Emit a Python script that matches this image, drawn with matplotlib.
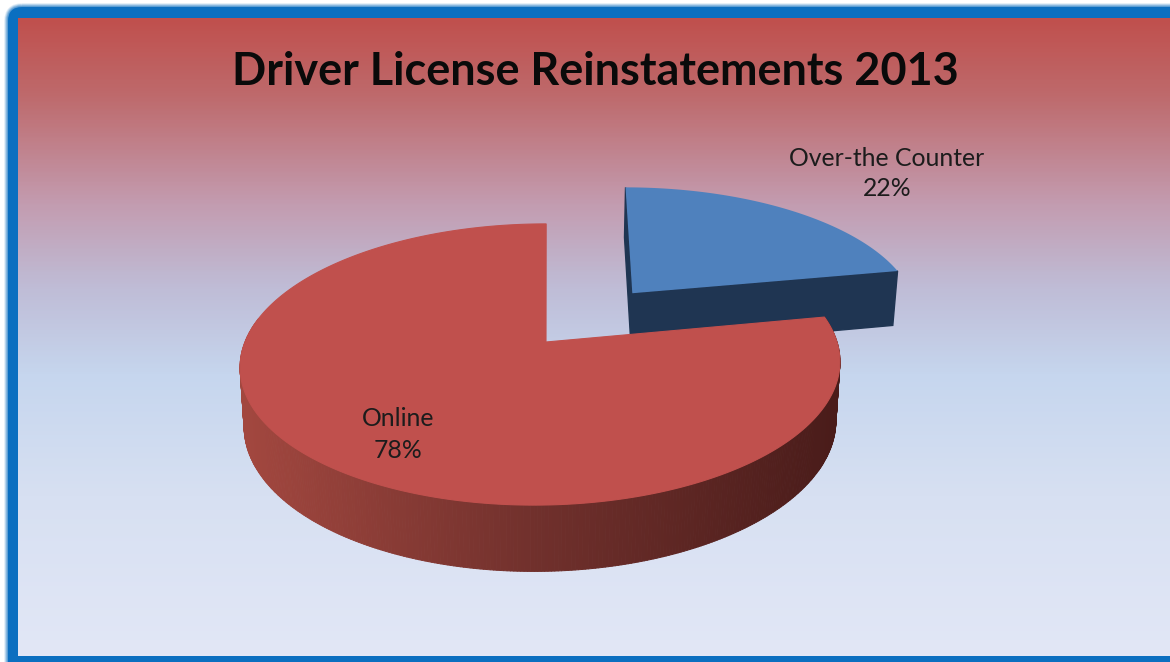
import numpy as np
import matplotlib
matplotlib.use('Agg')
import matplotlib.pyplot as plt
from matplotlib.collections import PolyCollection
from matplotlib.colors import LinearSegmentedColormap, to_rgb
from matplotlib.patches import FancyBboxPatch

# data
title = 'Driver License Reinstatements 2013'
labels = ['Over-the Counter', 'Online']
values = [22, 78]

plt.rcParams['font.family'] = ['Lato', 'DejaVu Sans']

fig = plt.figure(figsize=(11.7, 6.62), dpi=100)
ax = fig.add_axes([0, 0, 1, 1])
ax.axis('off')


def frame_box(**kw):
    return FancyBboxPatch((8, 7), 1200, 680, boxstyle='round,pad=0,rounding_size=14', **kw)


# soft glow round the frame
for width, alpha in [(5.5, 0.10), (4.5, 0.14), (3.5, 0.18), (2.5, 0.24), (1.5, 0.3)]:
    ax.add_patch(frame_box(fc='none', ec='#0b6fc0', lw=width, alpha=alpha, zorder=1))

# blue frame, the panel sits on top of it
ax.add_patch(frame_box(fc='#0b6fc0', ec='none', zorder=2))

# panel background
stops = [(0.0, '#c0504d'), (0.12, '#be6a6c'), (0.29, '#c39cb0'), (0.42, '#bfbcd6'),
         (0.56, '#c6d6ee'), (0.75, '#d7e0f2'), (1.0, '#e2e7f6')]
bg_cmap = LinearSegmentedColormap.from_list('bg', stops)
grad = np.linspace(0, 1, 400).reshape(-1, 1)
ax.imshow(grad, cmap=bg_cmap, extent=(18, 1170, 656, 18), aspect='auto', zorder=3)
ax.set_xlim(0, 1170)
ax.set_ylim(662, 0)


# pie seen from above with perspective, u to the right and v away from the viewer
def project(u, v, cx, level=0):
    w = 1 + 0.16 * v
    if level == 0:
        return cx + (296 * u + 6 * v) / w, 342 - 137 * v / w
    return cx + (292 * u + 6 * v) / w, 400 - 144 * v / w


def rim(a0, a1, n=240):
    t = np.radians(np.linspace(a0, a1, n))
    return np.sin(t), np.cos(t)


fractions = np.array(values) / sum(values)
split = 360 * fractions[0]
mid = np.radians(split / 2)
off_u, off_v = 0.49 * np.sin(mid), 0.49 * np.cos(mid)

# exploded slice
u, v = rim(0, split)
u_top = np.r_[0, u] + off_u
v_top = np.r_[0, v] + off_v
tx, ty = project(u_top, v_top, 543)
bx, by = project(u_top, v_top, 543, 1)
side_color = '#1f3552'
ax.fill([tx[0], tx[1], bx[1], bx[0]], [ty[0], ty[1], by[1], by[0]], color=side_color, zorder=4)
ax.fill([tx[0], tx[-1], bx[-1], bx[0]], [ty[0], ty[-1], by[-1], by[0]], color=side_color, zorder=4)
ax.fill(tx, ty, color='#4f81bd', lw=0, zorder=5)

# main slice, side wall, only the part that faces the viewer
u, v = rim(split, 360, 500)
tx, ty = project(u, v, 541)
bx, by = project(u, v, 541, 1)
angles = np.linspace(split, 360, 500)
quads = []
colors = []
shade_l = np.array(to_rgb('#a2473f'))
shade_m = np.array(to_rgb('#70302c'))
shade_r = np.array(to_rgb('#4a1c1a'))
for i in range(len(u) - 1):
    if angles[i] > 280:
        continue
    quads.append([(tx[i], ty[i]), (tx[i + 1], ty[i + 1]), (bx[i + 1], by[i + 1]), (bx[i], by[i])])
    f = np.clip((tx[i] - 245) / 590, 0, 1)
    if f < 0.5:
        colors.append(shade_l + (shade_m - shade_l) * f * 2)
    else:
        colors.append(shade_m + (shade_r - shade_m) * (f - 0.5) * 2)
ax.add_collection(PolyCollection(quads, facecolors=colors, edgecolors=colors, linewidths=0.7, zorder=6))

# main slice, top
ax.fill(np.r_[546, tx], np.r_[342, ty], fc='#c0504d', ec='#c0504d', lw=0.8, zorder=7)

# text
ax.text(595, 72, title, fontsize=32.4, fontweight='bold', color='#0a0a0a',
        ha='center', va='center', zorder=8)
ax.text(887, 158, labels[0], fontsize=17.8, color='#1c1c1c', ha='center', va='center', zorder=8)
ax.text(887, 189, f'{values[0]}%', fontsize=17.8, color='#1c1c1c', ha='center', va='center', zorder=8)
ax.text(398, 419, labels[1], fontsize=17.8, color='#1c1c1c', ha='center', va='center', zorder=8)
ax.text(398, 451, f'{values[1]}%', fontsize=17.8, color='#1c1c1c', ha='center', va='center', zorder=8)

fig.savefig('out.png', dpi=100)
